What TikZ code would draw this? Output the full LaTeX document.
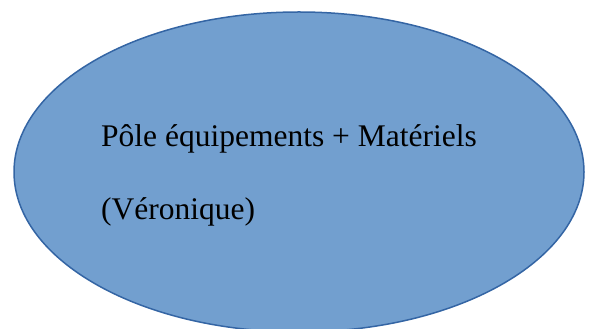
\documentclass[tikz,border=0pt]{standalone}
\usepackage{fontspec}
\setmainfont{Liberation Serif}
\usetikzlibrary{shapes.geometric}
\definecolor{ellfill}{RGB}{114,159,207}
\definecolor{elldraw}{RGB}{52,101,164}
\tikzset{
  bubble/.style={ellipse, fill=ellfill, draw=elldraw, line width=1.5pt, minimum width=570pt, minimum height=320pt, inner sep=0pt},
  label/.style={anchor=base west, inner sep=0pt, font=\fontsize{31.5}{36}\selectfont, text=black}
}
\begin{document}
\begin{tikzpicture}[x=1pt,y=1pt]
\useasboundingbox (0,0) rectangle (594,329);
\node[bubble] (ell) at (299,157) {};
\node[label] (l1) at (101,182) {Pôle équipements + Matériels};
\node[label] (l2) at (101,109) {(Véronique)};
\end{tikzpicture}
\end{document}
